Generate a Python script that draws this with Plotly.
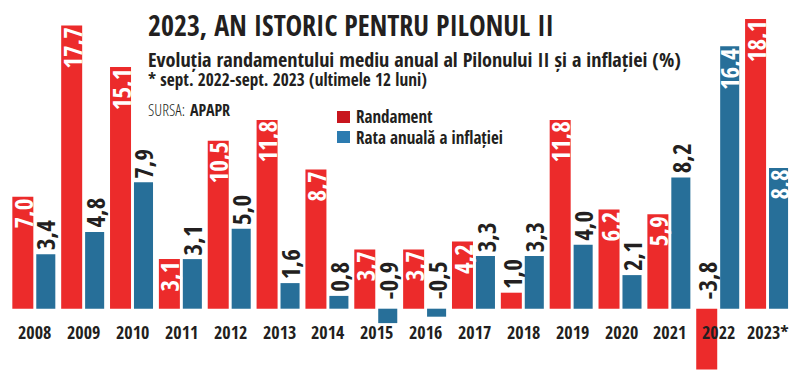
import plotly.graph_objects as go

years = ["2008", "2009", "2010", "2011", "2012", "2013", "2014", "2015",
         "2016", "2017", "2018", "2019", "2020", "2021", "2022", "2023*"]
randament = [7.0, 17.7, 15.1, 3.1, 10.5, 11.8, 8.7, 3.7, 3.7, 4.2, 1.0, 11.8, 6.2, 5.9, -3.8, 18.1]
inflatie = [3.4, 4.8, 7.9, 3.1, 5.0, 1.6, 0.8, -0.9, -0.5, 3.3, 3.3, 4.0, 2.1, 8.2, 16.4, 8.8]

title = "2023, AN ISTORIC PENTRU PILONUL II"
subtitle = "Evoluția randamentului mediu anual al Pilonului II și a inflației (%)"
note = "* sept. 2022-sept. 2023 (ultimele 12 luni)"
source_label = "SURSA:"
source_name = "APAPR"
legend_names = ["Randament", "Rata anuală a inflației"]

RED = "#EC2B2B"
BLUE = "#276F99"
RED_LEG = "#C8161E"
BLUE_LEG = "#2C7BB0"
DARK = "#231F20"
FONT = "Open Sans Condensed, Roboto Condensed, DejaVu Sans Condensed, sans-serif"
FONT_LIGHT = "Open Sans Condensed Light, Roboto Condensed, DejaVu Sans Condensed, sans-serif"

# the page body adds an 8 px margin; the figure is sized to fill the rest of the window
OX, OY = 8, 8
W, H = 800 - OX, 377 - OY
idx = list(range(len(years)))

RED_OFF, RED_W = -0.46, 0.43
BLUE_OFF, BLUE_W = 0.03, 0.39

PITCH = 48.85        # px per category
X0 = 34.8 - OX       # px of first category centre
BASE = 308.7 - OY    # px of zero line
UNIT = 16.0          # px per percentage point

fig = go.Figure()
fig.add_trace(go.Bar(x=idx, y=randament, offset=RED_OFF, width=RED_W,
                     marker=dict(color=RED, line=dict(width=0)), name=legend_names[0],
                     showlegend=False, hoverinfo="skip"))
fig.add_trace(go.Bar(x=idx, y=inflatie, offset=BLUE_OFF, width=BLUE_W,
                     marker=dict(color=BLUE, line=dict(width=0)), name=legend_names[1],
                     showlegend=False, hoverinfo="skip"))


def fmt(v):
    return f"{v:.1f}".replace(".", ",")


annotations = []


def add_value_labels(values, off, w, inside_min):
    for i, v in enumerate(values):
        xc = i + off + w / 2
        common = dict(x=xc, xref="x", yref="y", text="<b>" + fmt(v) + "</b>",
                      textangle=-90, showarrow=False, borderpad=0,
                      xanchor="center")
        if v >= inside_min:
            annotations.append(dict(common, y=v, yanchor="top", yshift=-1,
                                    font=dict(family=FONT, size=25, color="white")))
        elif v >= 0:
            annotations.append(dict(common, y=v, yanchor="bottom", yshift=3,
                                    font=dict(family=FONT, size=25, color=DARK)))
        else:
            annotations.append(dict(common, y=0, yanchor="bottom", yshift=8,
                                    font=dict(family=FONT, size=25, color=DARK)))


add_value_labels(randament, RED_OFF, RED_W, 2.0)
add_value_labels(inflatie, BLUE_OFF, BLUE_W, 8.5)

for i, yl in enumerate(years):
    annotations.append(dict(x=i, y=-1.43, xref="x", yref="y", text="<b>" + yl + "</b>",
                            showarrow=False, xanchor="center", yanchor="middle",
                            font=dict(family=FONT, size=18, color=DARK)))


def px(x):
    return (x - OX) / W


def py(y):
    return 1 - (y - OY) / H


annotations += [
    dict(x=px(146), y=py(25), xref="paper", yref="paper", text="<b>" + title + "</b>",
         showarrow=False, xanchor="left", yanchor="middle",
         font=dict(family=FONT, size=28, color=DARK)),
    dict(x=px(146), y=py(59), xref="paper", yref="paper", text="<b>" + subtitle + "</b>",
         showarrow=False, xanchor="left", yanchor="middle",
         font=dict(family=FONT, size=20.2, color=DARK)),
    dict(x=px(146), y=py(79), xref="paper", yref="paper", text="<b>" + note + "</b>",
         showarrow=False, xanchor="left", yanchor="middle",
         font=dict(family=FONT, size=17.3, color=DARK)),
    dict(x=px(146), y=py(110), xref="paper", yref="paper", text=source_label,
         showarrow=False, xanchor="left", yanchor="middle",
         font=dict(family=FONT_LIGHT, size=16, color=DARK)),
    dict(x=px(188), y=py(110), xref="paper", yref="paper", text="<b>" + source_name + "</b>",
         showarrow=False, xanchor="left", yanchor="middle",
         font=dict(family=FONT, size=16, color=DARK)),
    dict(x=px(354), y=py(117), xref="paper", yref="paper", text="<b>" + legend_names[0] + "</b>",
         showarrow=False, xanchor="left", yanchor="middle",
         font=dict(family=FONT, size=17, color=DARK)),
    dict(x=px(354), y=py(137), xref="paper", yref="paper", text="<b>" + legend_names[1] + "</b>",
         showarrow=False, xanchor="left", yanchor="middle",
         font=dict(family=FONT, size=17, color=DARK)),
]

shapes = [
    dict(type="rect", xref="paper", yref="paper", x0=px(337), x1=px(350), y0=py(123), y1=py(111),
         fillcolor=RED_LEG, line=dict(width=0)),
    dict(type="rect", xref="paper", yref="paper", x0=px(337), x1=px(350), y0=py(143), y1=py(131),
         fillcolor=BLUE_LEG, line=dict(width=0)),
]

fig.update_layout(
    width=W, height=H,
    margin=dict(l=0, r=0, t=0, b=0),
    paper_bgcolor="white", plot_bgcolor="white",
    barmode="overlay",
    xaxis=dict(range=[-X0 / PITCH, (W - X0) / PITCH], visible=False, fixedrange=True),
    yaxis=dict(range=[-(H - BASE) / UNIT, BASE / UNIT], visible=False, fixedrange=True),
    annotations=annotations,
    shapes=shapes,
    showlegend=False,
)

fig.write_html("out.html")
